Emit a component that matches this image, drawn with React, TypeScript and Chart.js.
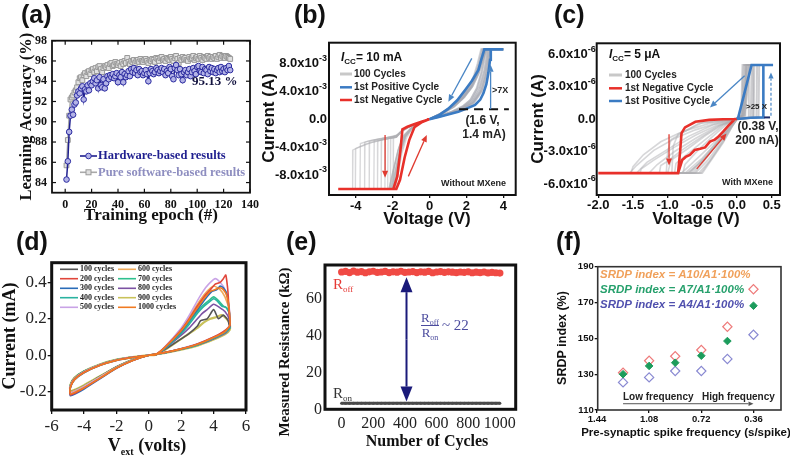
import React, { useEffect, useRef } from "react";
import { Chart, registerables } from "chart.js";

Chart.register(...registerables);

const W = 790;
const H = 459;
const SERIF = '"Liberation Serif", "DejaVu Serif", serif';
const SANS = '"Liberation Sans", Arial, sans-serif';

type Pt = [number, number];
const xy = (a: Pt[]) => a.map(([x, y]) => ({ x, y }));

// ================= (a) learning accuracy =================
const hwAcc = [
  84.3, 86.1, 89.0, 90.6, 91.2, 90.7, 91.7, 91.9, 92.6, 93.0,
  92.8, 93.3, 93.5, 92.2, 93.2, 93.0, 93.6, 93.1, 93.8, 93.6,
  94.0, 94.3, 93.8, 94.1, 93.3, 94.4, 93.6, 93.4, 94.2, 93.3,
  93.8, 94.5, 94.2, 94.6, 94.4, 94.7, 94.3, 94.5, 94.8, 93.9,
  94.6, 94.4, 94.9, 93.9, 94.7, 94.4, 94.6, 95.0, 94.5, 95.2,
  94.9, 95.3, 94.8, 95.1, 94.6, 95.2, 94.9, 95.0, 94.6, 94.8,
  95.1, 94.7, 94.0, 94.8, 95.2, 95.0, 94.7, 94.9, 95.3, 95.1,
  94.8, 95.0, 95.3, 94.9, 95.2, 94.6, 95.0, 94.8, 95.4, 95.2,
  94.5, 94.2, 95.3, 95.6, 95.1, 94.6, 95.2, 94.7, 94.1, 94.9,
  95.1, 94.6, 94.9, 95.2, 94.5, 94.9, 95.3, 95.0, 94.7, 95.4,
  95.5, 95.0, 94.9, 95.4, 94.8, 95.2, 95.1, 94.7, 95.4, 95.0,
  95.3, 94.9, 95.2, 94.8, 95.1, 95.3, 94.9, 95.4, 95.0, 95.2,
  94.9, 95.3, 95.1, 95.5, 95.1,
];
const swAcc = [
  85.7, 88.2, 90.6, 92.2, 92.4, 92.6, 92.9, 93.1, 93.4, 93.9,
  94.3, 94.4, 94.1, 94.6, 94.8, 94.5, 94.9, 95.0, 94.7, 95.1,
  95.2, 94.9, 95.3, 95.0, 95.4, 95.5, 95.2, 94.9, 95.3, 95.5,
  95.4, 95.6, 95.3, 95.7, 95.8, 95.5, 95.6, 95.9, 95.7, 95.6,
  95.8, 95.5, 95.9, 95.7, 96.0, 95.8, 96.3, 95.9, 95.7, 96.0,
  95.9, 96.1, 95.8, 96.0, 96.1, 95.9, 96.2, 96.0, 95.9, 96.1,
  96.2, 96.0, 95.8, 96.1, 96.0, 96.2, 96.1, 95.9, 96.3, 96.2,
  96.0, 96.3, 96.4, 96.1, 96.2, 96.0, 96.3, 96.2, 96.1, 96.4,
  96.2, 96.0, 96.3, 96.5, 96.2, 95.8, 96.3, 96.1, 96.4, 96.2,
  96.3, 96.1, 96.0, 96.4, 96.2, 96.3, 96.5, 96.1, 96.3, 96.4,
  96.2, 96.5, 96.3, 96.1, 96.4, 96.3, 96.2, 96.5, 96.3, 96.4,
  96.2, 96.4, 96.3, 96.5, 96.2, 96.4, 96.6, 96.3, 96.5, 96.4,
  96.3, 96.5, 96.4, 96.3, 96.2,
];

// ================= (b) I-V without MXene (V, mA) =================
const bYTicks = [-8, -4, 0, 4, 8];
const bYTickBase = ["-8.0x10", "-4.0x10", "0.0", "4.0x10", "8.0x10"];
const bYTickExp = ["-3", "-3", "", "-3", "-3"];
const bRed: Pt[] = [[0, 0], [-0.4, -0.35], [-0.8, -0.7], [-1.2, -1.1], [-1.47, -1.45], [-1.58, -4.5], [-1.75, -8.2], [-1.96, -10], [-4.95, -10], [-1.8, -10], [-1.6, -8.7], [-1.35, -5.5], [-1.1, -3.0], [-0.82, -1.16], [-0.4, -0.4], [0, 0]];
const bBlue: Pt[] = [[0, 0], [0.5, 0.3], [1.0, 0.65], [1.56, 1.07], [2.0, 1.5], [2.47, 2.03], [2.75, 2.8], [2.92, 3.7], [3.08, 5.0], [3.19, 6.6], [3.28, 8.5], [3.32, 10], [4.0, 10], [2.97, 10], [2.8, 8.5], [2.65, 7.05], [2.3, 5.5], [1.93, 4.18], [1.5, 2.7], [1.02, 1.5], [0.5, 0.55], [0, 0]];
const bGrayNeg: Pt[][] = [
  [[0, 0], [-0.5, -0.45], [-1, -0.95], [-1.5, -1.7], [-1.8, -2.5], [-2.5, -2.9], [-3.2, -3.4], [-3.8, -4.0], [-4.15, -4.4], [-4.17, -10], [-4.9, -10], [-2.2, -10], [-1.95, -7.0], [-1.7, -4.3], [-1.4, -2.4], [-1.0, -1.3], [-0.5, -0.5], [0, 0]],
  [[0, 0], [-0.5, -0.42], [-1, -0.9], [-1.5, -1.6], [-1.8, -2.6], [-2.6, -3.0], [-3.4, -3.5], [-4.0, -4.2], [-4.02, -10], [-4.9, -10], [-2.15, -10], [-1.9, -6.8], [-1.65, -4.1], [-1.35, -2.3], [-1.0, -1.25], [-0.5, -0.48], [0, 0]],
  [[0, 0], [-0.5, -0.44], [-1, -0.92], [-1.5, -1.65], [-1.8, -2.4], [-2.6, -2.8], [-3.3, -3.1], [-3.75, -3.5], [-3.77, -10], [-4.9, -10], [-2.1, -10], [-1.85, -7.2], [-1.62, -4.5], [-1.38, -2.6], [-1.0, -1.35], [-0.5, -0.5], [0, 0]],
  [[0, 0], [-0.5, -0.43], [-1, -0.93], [-1.5, -1.68], [-1.8, -2.5], [-2.5, -2.7], [-3.1, -3.0], [-3.5, -3.3], [-3.52, -10], [-4.9, -10], [-2.05, -10], [-1.82, -6.9], [-1.6, -4.2], [-1.33, -2.35], [-0.98, -1.28], [-0.5, -0.47], [0, 0]],
  [[0, 0], [-0.5, -0.45], [-1, -0.96], [-1.5, -1.72], [-1.8, -2.6], [-2.5, -2.9], [-3.25, -3.2], [-3.27, -10], [-4.9, -10], [-2.0, -10], [-1.78, -7.0], [-1.57, -4.4], [-1.3, -2.4], [-0.95, -1.25], [-0.5, -0.48], [0, 0]],
  [[0, 0], [-0.5, -0.41], [-1, -0.9], [-1.5, -1.62], [-1.8, -2.4], [-2.4, -2.7], [-3.0, -3.0], [-3.02, -10], [-4.9, -10], [-2.2, -10], [-1.97, -7.3], [-1.72, -4.6], [-1.45, -2.7], [-1.05, -1.4], [-0.5, -0.5], [0, 0]],
  [[0, 0], [-0.5, -0.44], [-1, -0.94], [-1.5, -1.7], [-1.8, -2.5], [-2.3, -2.8], [-2.8, -3.1], [-2.82, -10], [-4.9, -10], [-2.1, -10], [-1.88, -6.6], [-1.66, -4.0], [-1.4, -2.3], [-1.02, -1.3], [-0.5, -0.49], [0, 0]],
  [[0, 0], [-0.5, -0.46], [-1, -0.97], [-1.5, -1.75], [-1.8, -2.6], [-2.6, -2.9], [-2.62, -10], [-4.9, -10], [-2.0, -10], [-1.8, -7.5], [-1.58, -4.8], [-1.32, -2.6], [-0.97, -1.32], [-0.5, -0.5], [0, 0]],
  [[0, 0], [-0.5, -0.43], [-1, -0.92], [-1.5, -1.66], [-1.8, -2.3], [-2.4, -2.7], [-2.42, -10], [-4.9, -10], [-1.95, -10], [-1.76, -7.1], [-1.55, -4.5], [-1.3, -2.5], [-0.95, -1.3], [-0.5, -0.48], [0, 0]],
  [[0, 0], [-0.5, -0.45], [-1, -0.95], [-1.5, -1.7], [-1.8, -2.5], [-2.25, -2.8], [-2.27, -10], [-4.9, -10], [-2.05, -10], [-1.84, -7.4], [-1.6, -4.6], [-1.35, -2.6], [-1.0, -1.33], [-0.5, -0.5], [0, 0]],
  [[0, 0], [-0.5, -0.42], [-1, -0.91], [-1.5, -1.64], [-1.8, -2.4], [-2.1, -2.6], [-2.12, -10], [-4.9, -10], [-1.9, -10], [-1.72, -7.2], [-1.52, -4.6], [-1.28, -2.5], [-0.94, -1.27], [-0.5, -0.47], [0, 0]],
  [[0, 0], [-0.5, -0.44], [-1, -0.94], [-1.5, -1.7], [-1.7, -2.2], [-1.95, -2.5], [-1.97, -10], [-4.9, -10], [-1.85, -10], [-1.68, -7.6], [-1.5, -4.9], [-1.25, -2.7], [-0.92, -1.3], [-0.5, -0.49], [0, 0]],
];
const bGrayPos: Pt[][] = [
  [[0, 0], [0.6, 0.45], [1.2, 0.95], [1.8, 1.6], [2.3, 2.5], [2.7, 4.2], [2.95, 6.5], [3.1, 8.5], [3.15, 10], [4, 10], [2.9, 10], [2.72, 8.0], [2.5, 6.2], [2.15, 4.4], [1.7, 3.0], [1.2, 1.8], [0.6, 0.75], [0, 0]],
  [[0, 0], [0.6, 0.4], [1.2, 0.88], [1.8, 1.45], [2.35, 2.3], [2.8, 4.0], [3.05, 6.3], [3.2, 8.5], [3.25, 10], [4, 10], [3.0, 10], [2.82, 8.3], [2.58, 6.3], [2.25, 4.5], [1.8, 3.0], [1.3, 1.8], [0.6, 0.7], [0, 0]],
  [[0, 0], [0.6, 0.5], [1.2, 1.05], [1.8, 1.8], [2.25, 2.8], [2.6, 4.5], [2.85, 6.8], [3.0, 8.8], [3.05, 10], [4, 10], [2.85, 10], [2.65, 7.8], [2.42, 6.0], [2.05, 4.2], [1.6, 2.8], [1.1, 1.6], [0.6, 0.8], [0, 0]],
  [[0, 0], [0.6, 0.42], [1.2, 0.9], [1.8, 1.5], [2.4, 2.4], [2.85, 4.3], [3.1, 6.8], [3.22, 8.8], [3.28, 10], [4, 10], [3.05, 10], [2.88, 8.4], [2.65, 6.5], [2.3, 4.6], [1.85, 3.1], [1.3, 1.75], [0.6, 0.68], [0, 0]],
  [[0, 0], [0.6, 0.48], [1.2, 1.0], [1.8, 1.7], [2.3, 2.7], [2.7, 4.6], [2.98, 7.0], [3.1, 9.0], [3.12, 10], [4, 10], [2.95, 10], [2.76, 8.1], [2.52, 6.2], [2.18, 4.4], [1.75, 3.0], [1.25, 1.8], [0.6, 0.74], [0, 0]],
  [[0, 0], [0.6, 0.44], [1.2, 0.93], [1.8, 1.55], [2.35, 2.5], [2.75, 4.1], [3.0, 6.2], [3.15, 8.4], [3.2, 10], [4, 10], [3.02, 10], [2.85, 8.5], [2.6, 6.6], [2.28, 4.7], [1.82, 3.1], [1.28, 1.8], [0.6, 0.72], [0, 0]],
  [[0, 0], [0.6, 0.5], [1.2, 1.08], [1.8, 1.85], [2.2, 2.7], [2.55, 4.4], [2.8, 6.6], [2.95, 8.7], [3.0, 10], [4, 10], [2.8, 10], [2.6, 7.9], [2.38, 6.0], [2.0, 4.1], [1.55, 2.7], [1.05, 1.5], [0.6, 0.82], [0, 0]],
  [[0, 0], [0.6, 0.4], [1.2, 0.86], [1.8, 1.42], [2.4, 2.3], [2.9, 4.2], [3.15, 6.6], [3.26, 8.7], [3.3, 10], [4, 10], [3.08, 10], [2.9, 8.6], [2.68, 6.7], [2.35, 4.8], [1.9, 3.2], [1.35, 1.8], [0.6, 0.66], [0, 0]],
];

// ================= (c) I-V with MXene (V, µA) =================
const cYTicks = [-6, -3, 0, 3, 6];
const cYTickBase = ["-6.0x10", "-3.0x10", "0.0", "3.0x10", "6.0x10"];
const cYTickExp = ["-6", "-6", "", "-6", "-6"];
const cRed: Pt[] = [[0, 0], [-0.2, -0.02], [-0.4, -0.08], [-0.6, -0.25], [-0.75, -0.77], [-0.8, -1.3], [-0.82, -3.0], [-0.85, -5], [-2.0, -5], [-0.85, -5], [-0.79, -3.79], [-0.74, -3.5], [-0.68, -3.32], [-0.61, -2.86], [-0.53, -2.75], [-0.46, -2.62], [-0.39, -2.09], [-0.32, -1.9], [-0.27, -1.63], [-0.2, -1.17], [-0.13, -0.65], [-0.03, 0], [0, 0]];
const cBlue: Pt[] = [[0, 0], [0.2, 0.12], [0.38, 0.15], [0.38, 5], [0.52, 5], [0.21, 5], [0.02, 0.2], [0, 0]];
const cGrayNeg: Pt[][] = [
  [[0, 0], [-0.3, -0.4], [-0.6, -1.0], [-0.9, -1.8], [-1.2, -2.9], [-1.45, -4.3], [-1.55, -5], [-0.75, -5], [-0.5, -3.6], [-0.3, -2.2], [-0.12, -0.9], [0, 0]],
  [[0, 0], [-0.3, -0.6], [-0.6, -1.5], [-0.9, -2.6], [-1.2, -3.8], [-1.38, -4.6], [-1.4, -5], [-0.7, -5], [-0.48, -3.7], [-0.28, -2.2], [-0.1, -0.8], [0, 0]],
  [[0, 0], [-0.3, -0.7], [-0.6, -1.8], [-0.9, -3.0], [-1.15, -4.2], [-1.27, -5], [-0.65, -5], [-0.45, -3.6], [-0.26, -2.1], [-0.1, -0.8], [0, 0]],
  [[0, 0], [-0.25, -0.6], [-0.5, -1.6], [-0.8, -2.9], [-1.0, -3.9], [-1.1, -4.3], [-1.12, -5], [-0.6, -5], [-0.42, -3.8], [-0.25, -2.3], [-0.09, -0.8], [0, 0]],
  [[0, 0], [-0.2, -0.5], [-0.45, -1.5], [-0.7, -2.7], [-0.95, -3.8], [-1.0, -5], [-0.55, -5], [-0.4, -3.9], [-0.22, -2.2], [-0.08, -0.7], [0, 0]],
  [[0, 0], [-0.2, -0.6], [-0.4, -1.6], [-0.65, -2.9], [-0.88, -4.1], [-0.9, -5], [-0.52, -5], [-0.38, -3.8], [-0.2, -2.1], [-0.07, -0.7], [0, 0]],
  [[0, 0], [-0.15, -0.5], [-0.35, -1.6], [-0.55, -2.8], [-0.75, -4.2], [-0.78, -5], [-0.5, -5], [-0.36, -3.7], [-0.2, -2.2], [-0.07, -0.7], [0, 0]],
  [[0, 0], [-0.4, -0.4], [-0.8, -1.2], [-1.1, -2.1], [-1.35, -3.3], [-1.5, -4.4], [-1.53, -5], [-0.8, -5], [-0.55, -3.5], [-0.32, -2.1], [-0.13, -0.9], [0, 0]],
  [[0, 0], [-0.5, -0.35], [-0.85, -1.4], [-0.92, -2.5], [-0.94, -5], [-0.62, -5], [-0.44, -3.6], [-0.26, -2.0], [-0.1, -0.75], [0, 0]],
  [[0, 0], [-0.55, -0.4], [-0.95, -1.9], [-1.0, -3.0], [-1.02, -5], [-0.68, -5], [-0.47, -3.5], [-0.28, -2.0], [-0.1, -0.7], [0, 0]],
  [[0, 0], [-0.35, -0.55], [-0.7, -1.6], [-1.0, -2.8], [-1.3, -4.0], [-1.45, -5], [-0.72, -5], [-0.5, -3.9], [-0.3, -2.4], [-0.11, -0.9], [0, 0]],
];
const cGrayPos: Pt[][] = [
  [[0, 0], [0.12, 0.15], [0.13, 5], [0.22, 5], [0.08, 5], [0.06, 0.3], [0, 0]],
  [[0, 0], [0.16, 0.15], [0.17, 5], [0.25, 5], [0.1, 5], [0.07, 0.4], [0, 0]],
  [[0, 0], [0.2, 0.15], [0.21, 5], [0.28, 5], [0.12, 5], [0.08, 0.3], [0, 0]],
  [[0, 0], [0.24, 0.15], [0.25, 5], [0.31, 5], [0.15, 5], [0.09, 0.4], [0, 0]],
  [[0, 0], [0.28, 0.15], [0.29, 5], [0.33, 5], [0.17, 5], [0.1, 0.3], [0, 0]],
  [[0, 0], [0.31, 0.15], [0.32, 5], [0.36, 5], [0.19, 5], [0.11, 0.35], [0, 0]],
  [[0, 0], [0.22, 0.15], [0.23, 5], [0.3, 5], [0.14, 5], [0.08, 0.35], [0, 0]],
];

// ================= (d) I-V loops over cycling (V, mA) =================
const dNames = ["100 cycles", "200 cycles", "300 cycles", "400 cycles", "500 cycles", "600 cycles", "700 cycles", "800 cycles", "900 cycles", "1000 cycles"];
const dColors = ["#555555", "#e0453a", "#2a6cb8", "#2ab3a0", "#c9a3e6", "#efaa5a", "#2fc08e", "#7c52a3", "#c9c25a", "#f07a22"];
const loop100: Pt[] = [[0, 0], [-1, -0.01], [-2, -0.025], [-3, -0.05], [-4, -0.088], [-4.6, -0.125], [-4.85, -0.165], [-4.85, -0.2], [-4.5, -0.19], [-4, -0.168], [-3, -0.115], [-2, -0.063], [-1, -0.024], [0, 0], [1, 0.014], [2, 0.034], [3, 0.058], [4, 0.092], [4.6, 0.12], [4.95, 0.15], [4.9, 0.19], [4.6, 0.22], [4.3, 0.2], [4.0, 0.25], [3.6, 0.2], [3.2, 0.19], [3.0, 0.16], [2.5, 0.12], [2, 0.09], [1, 0.032], [0.4, 0.002], [0, 0]];
const loop200: Pt[] = [[0, 0], [-1, -0.011], [-2, -0.027], [-3, -0.053], [-4, -0.093], [-4.6, -0.132], [-4.85, -0.175], [-4.85, -0.218], [-4.5, -0.205], [-4, -0.18], [-3, -0.125], [-2, -0.07], [-1, -0.028], [0, 0], [1, 0.016], [2, 0.036], [3, 0.062], [4, 0.1], [4.6, 0.13], [5, 0.16], [4.95, 0.24], [4.9, 0.33], [4.85, 0.38], [4.75, 0.44], [4.6, 0.42], [4.4, 0.4], [4.1, 0.39], [3.8, 0.36], [3.4, 0.32], [3, 0.27], [2.5, 0.2], [2, 0.14], [1, 0.045], [0.4, 0.003], [0, 0]];
const loop300: Pt[] = [[0, 0], [-1, -0.012], [-2, -0.028], [-3, -0.055], [-4, -0.096], [-4.6, -0.136], [-4.85, -0.18], [-4.85, -0.222], [-4.5, -0.21], [-4, -0.185], [-3, -0.128], [-2, -0.072], [-1, -0.029], [0, 0], [1, 0.015], [2, 0.035], [3, 0.06], [4, 0.097], [4.7, 0.13], [5, 0.16], [4.95, 0.25], [4.85, 0.33], [4.6, 0.37], [4.4, 0.38], [4.2, 0.36], [3.9, 0.35], [3.5, 0.31], [3, 0.25], [2.5, 0.19], [2, 0.13], [1, 0.042], [0.4, 0.002], [0, 0]];
const loop400: Pt[] = [[0, 0], [-1, -0.01], [-2, -0.025], [-3, -0.05], [-4, -0.089], [-4.6, -0.127], [-4.85, -0.168], [-4.85, -0.2], [-4.5, -0.19], [-4, -0.17], [-3, -0.118], [-2, -0.067], [-1, -0.026], [0, 0], [1, 0.014], [2, 0.033], [3, 0.057], [4, 0.093], [4.7, 0.125], [5, 0.15], [5, 0.22], [4.8, 0.26], [4.5, 0.27], [4.2, 0.3], [4.0, 0.31], [3.7, 0.29], [3.3, 0.26], [3, 0.23], [2.5, 0.17], [2, 0.12], [1, 0.038], [0.4, 0.002], [0, 0]];
const loop500: Pt[] = [[0, 0], [-1, -0.011], [-2, -0.026], [-3, -0.052], [-4, -0.091], [-4.6, -0.13], [-4.85, -0.17], [-4.85, -0.205], [-4.5, -0.195], [-4, -0.172], [-3, -0.12], [-2, -0.068], [-1, -0.027], [0, 0], [1, 0.016], [2, 0.037], [3, 0.063], [4, 0.1], [4.7, 0.135], [5, 0.17], [4.95, 0.27], [4.7, 0.36], [4.4, 0.4], [4.1, 0.42], [3.8, 0.4], [3.5, 0.37], [3.2, 0.33], [3, 0.3], [2.5, 0.22], [2, 0.15], [1, 0.048], [0.4, 0.003], [0, 0]];
const loop600: Pt[] = [[0, 0], [-1, -0.01], [-2, -0.025], [-3, -0.051], [-4, -0.09], [-4.6, -0.128], [-4.85, -0.168], [-4.85, -0.2], [-4.5, -0.19], [-4, -0.168], [-3, -0.117], [-2, -0.066], [-1, -0.026], [0, 0], [1, 0.015], [2, 0.035], [3, 0.06], [4, 0.098], [4.7, 0.13], [5, 0.165], [4.95, 0.25], [4.7, 0.32], [4.4, 0.36], [4.0, 0.38], [3.7, 0.36], [3.4, 0.33], [3, 0.28], [2.5, 0.21], [2, 0.145], [1, 0.045], [0.4, 0.002], [0, 0]];
const loop700: Pt[] = [[0, 0], [-1, -0.01], [-2, -0.025], [-3, -0.05], [-4, -0.088], [-4.6, -0.126], [-4.85, -0.166], [-4.85, -0.198], [-4.5, -0.19], [-4, -0.168], [-3, -0.117], [-2, -0.066], [-1, -0.026], [0, 0], [1, 0.014], [2, 0.034], [3, 0.058], [4, 0.095], [4.7, 0.128], [5, 0.16], [5, 0.23], [4.8, 0.26], [4.6, 0.27], [4.3, 0.3], [4.0, 0.32], [3.7, 0.3], [3.3, 0.27], [3, 0.24], [2.5, 0.18], [2, 0.125], [1, 0.04], [0.4, 0.002], [0, 0]];
const loop800: Pt[] = [[0, 0], [-1, -0.011], [-2, -0.027], [-3, -0.053], [-4, -0.094], [-4.6, -0.134], [-4.85, -0.176], [-4.85, -0.21], [-4.5, -0.2], [-4, -0.176], [-3, -0.122], [-2, -0.069], [-1, -0.027], [0, 0], [1, 0.014], [2, 0.033], [3, 0.056], [4, 0.09], [4.7, 0.12], [5, 0.15], [4.95, 0.2], [4.7, 0.24], [4.4, 0.26], [4.0, 0.28], [3.6, 0.25], [3.3, 0.23], [3, 0.2], [2.5, 0.15], [2, 0.11], [1, 0.036], [0.4, 0.002], [0, 0]];
const loop900: Pt[] = [[0, 0], [-1, -0.01], [-2, -0.024], [-3, -0.049], [-4, -0.087], [-4.6, -0.124], [-4.85, -0.163], [-4.85, -0.195], [-4.5, -0.186], [-4, -0.164], [-3, -0.114], [-2, -0.065], [-1, -0.025], [0, 0], [1, 0.013], [2, 0.031], [3, 0.053], [4, 0.086], [4.7, 0.115], [5, 0.14], [5, 0.17], [4.8, 0.2], [4.5, 0.22], [4.2, 0.21], [3.8, 0.2], [3.4, 0.18], [3, 0.15], [2.5, 0.12], [2, 0.09], [1, 0.03], [0.4, 0.002], [0, 0]];
const loop1000: Pt[] = [[0, 0], [-1, -0.012], [-2, -0.028], [-3, -0.055], [-4, -0.095], [-4.6, -0.135], [-4.85, -0.178], [-4.85, -0.212], [-4.5, -0.2], [-4, -0.178], [-3, -0.124], [-2, -0.07], [-1, -0.028], [0, 0], [1, 0.015], [2, 0.035], [3, 0.06], [4, 0.097], [4.7, 0.13], [5, 0.165], [4.95, 0.26], [4.8, 0.33], [4.6, 0.36], [4.4, 0.37], [4.1, 0.36], [3.8, 0.35], [3.4, 0.31], [3, 0.26], [2.5, 0.195], [2, 0.135], [1, 0.043], [0.4, 0.002], [0, 0]];
const dLoops = [loop100, loop200, loop300, loop400, loop500, loop600, loop700, loop800, loop900, loop1000];
const dDrawOrder = [9, 1, 2, 4, 5, 3, 6, 7, 0, 8]; // top-most first

// ================= (e) endurance =================
const eCycles = [0, 25, 50, 75, 100, 125, 150, 175, 200, 225, 250, 275, 300, 325, 350, 375, 400, 425, 450, 475, 500, 525, 550, 575, 600, 625, 650, 675, 700, 725, 750, 775, 800, 825, 850, 875, 900, 925, 950, 975, 1000];
const eRoff = [74.6, 74.9, 74.3, 75.1, 74.5, 74.8, 74.2, 74.7, 75.0, 74.4, 74.6, 74.9, 74.3, 74.7, 74.5, 75.0, 74.4, 74.6, 74.8, 74.3, 74.7, 74.5, 74.9, 74.2, 74.6, 74.8, 74.4, 74.7, 74.5, 74.3, 74.6, 74.4, 74.7, 74.2, 74.5, 74.3, 74.6, 74.1, 74.4, 74.2, 74.0];
const eRon = [3.3, 3.35, 3.3, 3.25, 3.3, 3.35, 3.3, 3.3, 3.25, 3.3, 3.35, 3.3, 3.3, 3.25, 3.3, 3.3, 3.35, 3.3, 3.3, 3.25, 3.3, 3.3, 3.35, 3.3, 3.3, 3.25, 3.3, 3.3, 3.35, 3.3, 3.3, 3.25, 3.3, 3.3, 3.35, 3.3, 3.3, 3.25, 3.3, 3.3, 3.3];
const eXTicks = [0, 200, 400, 600, 800, 1000];
const eYTicks = [0, 20, 40, 60];

// ================= (f) SRDP =================
const fX = [1.26, 1.08, 0.9, 0.72, 0.54, 0.36];
const fA10 = [130.8, 137.5, 140.0, 143.5, 156.5, 177.4];
const fA7 = [130.0, 134.6, 136.4, 140.3, 148.5, 168.2];
const fA4 = [125.4, 128.2, 131.8, 131.8, 138.5, 152.0];
const fXTicks = [1.44, 1.08, 0.72, 0.36];
const fXTickText = ["1.44", "1.08", "0.72", "0.36"];
const fYTicks = [110, 130, 150, 170, 190];

// ================= helpers =================
function txt(ctx: any, s: string, x: number, y: number, font: string, color: string, align: any = "left", base: any = "middle") {
  ctx.save();
  ctx.font = font;
  ctx.fillStyle = color;
  ctx.textAlign = align;
  ctx.textBaseline = base;
  ctx.fillText(s, x, y);
  ctx.restore();
}
function vtxt(ctx: any, s: string, x: number, y: number, font: string, color: string) {
  ctx.save();
  ctx.translate(x, y);
  ctx.rotate(-Math.PI / 2);
  txt(ctx, s, 0, 0, font, color, "center", "middle");
  ctx.restore();
}
function runs(ctx: any, parts: [string, string, number][], x: number, y: number, color: string, align = "left") {
  ctx.save();
  ctx.fillStyle = color;
  ctx.textBaseline = "alphabetic";
  ctx.textAlign = "left";
  let total = 0;
  for (const [t, f] of parts) {
    ctx.font = f;
    total += ctx.measureText(t).width;
  }
  let cx = align === "center" ? x - total / 2 : align === "right" ? x - total : x;
  for (const [t, f, dy] of parts) {
    ctx.font = f;
    ctx.fillText(t, cx, y + dy);
    cx += ctx.measureText(t).width;
  }
  ctx.restore();
}
function supLabel(ctx: any, base: string, exp: string, xr: number, y: number, f1: string, f2: string, color: string) {
  ctx.save();
  ctx.fillStyle = color;
  ctx.textBaseline = "middle";
  ctx.font = f2;
  const ew = exp ? ctx.measureText(exp).width : 0;
  ctx.font = f1;
  ctx.textAlign = "right";
  ctx.fillText(base, xr - ew, y);
  if (exp) {
    ctx.font = f2;
    ctx.textAlign = "left";
    ctx.fillText(exp, xr - ew, y - 5);
  }
  ctx.restore();
}
function arrow(ctx: any, x1: number, y1: number, x2: number, y2: number, color: string, lw: number, head: number, hw: number, dash?: number[]) {
  ctx.save();
  ctx.strokeStyle = color;
  ctx.fillStyle = color;
  ctx.lineWidth = lw;
  const a = Math.atan2(y2 - y1, x2 - x1);
  const bx = x2 - head * Math.cos(a);
  const by = y2 - head * Math.sin(a);
  if (dash) ctx.setLineDash(dash);
  ctx.beginPath();
  ctx.moveTo(x1, y1);
  ctx.lineTo(bx, by);
  ctx.stroke();
  ctx.setLineDash([]);
  ctx.beginPath();
  ctx.moveTo(x2, y2);
  ctx.lineTo(bx + hw * Math.sin(a), by - hw * Math.cos(a));
  ctx.lineTo(bx - hw * Math.sin(a), by + hw * Math.cos(a));
  ctx.closePath();
  ctx.fill();
  ctx.restore();
}
function seg(ctx: any, x1: number, y1: number, x2: number, y2: number, color: string, lw: number, dash?: number[]) {
  ctx.save();
  ctx.strokeStyle = color;
  ctx.lineWidth = lw;
  if (dash) ctx.setLineDash(dash);
  ctx.beginPath();
  ctx.moveTo(x1, y1);
  ctx.lineTo(x2, y2);
  ctx.stroke();
  ctx.restore();
}
function frame(chart: any, lw: number, color: string) {
  const { left, top, right, bottom } = chart.chartArea;
  const ctx = chart.ctx;
  ctx.save();
  ctx.lineWidth = lw;
  ctx.strokeStyle = color;
  ctx.strokeRect(left, top, right - left, bottom - top);
  ctx.restore();
}
function scale(axis: "x" | "y", o: any): any {
  const s: any = {
    type: "linear",
    min: o.min,
    max: o.max,
    reverse: !!o.reverse,
    grid: { display: !!o.tick, drawOnChartArea: false, drawTicks: !!o.tick, tickLength: o.tick || 0, color: "#111", lineWidth: 1.3 },
    border: { display: false },
    ticks: {
      display: o.show !== false,
      autoSkip: false,
      maxRotation: 0,
      minRotation: 0,
      includeBounds: false,
      padding: o.pad ?? 3,
      color: o.color || "#111",
      font: o.font,
    },
    afterFit: (sc: any) => {
      if (axis === "x") sc.height = o.fit;
      else sc.width = o.fit;
    },
  };
  if (o.step) s.ticks.stepSize = o.step;
  if (o.cb) s.ticks.callback = o.cb;
  if (o.vals) s.afterBuildTicks = (sc: any) => { sc.ticks = o.vals.map((v: number) => ({ value: v })); };
  return s;
}
function baseOpts(pad: any, x: any, y: any): any {
  return {
    responsive: false,
    animation: false,
    events: [],
    layout: { padding: pad },
    plugins: { legend: { display: false }, tooltip: { enabled: false } },
    scales: { x, y },
  };
}
function lineDs(a: Pt[], color: string, w: number, extra: any = {}) {
  return { data: xy(a), showLine: true, borderColor: color, backgroundColor: color, borderWidth: w, pointRadius: 0, tension: 0, fill: false, ...extra };
}
const label = (ctx: any, s: string, x: number, y: number) => txt(ctx, s, x, y, `bold 25px ${SANS}`, "#111", "left", "middle");

// ================= chart builders =================
function makeA(): any {
  return {
    type: "scatter",
    data: {
      datasets: [
        { data: hwAcc.map((y, i) => ({ x: i + 1, y })), showLine: true, borderColor: "#1f1f8f", borderWidth: 1.5, pointStyle: "circle", pointRadius: 2.8, pointBorderWidth: 1, pointBorderColor: "#2b2ba0", pointBackgroundColor: "#b3b3e6" },
        { data: swAcc.map((y, i) => ({ x: i + 1, y })), showLine: true, borderColor: "#a9a9a9", borderWidth: 1.5, pointStyle: "rect", pointRadius: 3.4, pointBorderWidth: 1, pointBorderColor: "#999999", pointBackgroundColor: "#e0e0e0" },
      ],
    },
    options: baseOpts(
      { left: 7, top: 40.7, right: 540, bottom: 241.3 },
      scale("x", { min: -10, max: 140, step: 20, pad: 5, fit: 25, font: { family: SERIF, size: 12, weight: "bold" } }),
      scale("y", { min: 83, max: 98, step: 2, pad: 5, fit: 45, font: { family: SERIF, size: 12, weight: "bold" } })
    ),
    plugins: [{
      id: "decoA",
      afterDraw(chart: any) {
        const ctx = chart.ctx;
        const ca = chart.chartArea;
        frame(chart, 1.8, "#111");
        for (const t of chart.scales.x.ticks) {
          const p = chart.scales.x.getPixelForValue(t.value);
          seg(ctx, p, ca.bottom, p, ca.bottom - 4, "#111", 1.2);
          seg(ctx, p, ca.top, p, ca.top + 4, "#111", 1.2);
        }
        for (const t of chart.scales.y.ticks) {
          const p = chart.scales.y.getPixelForValue(t.value);
          seg(ctx, ca.left, p, ca.left + 4, p, "#111", 1.2);
          seg(ctx, ca.right, p, ca.right - 4, p, "#111", 1.2);
        }
        label(ctx, "(a)", 21, 16);
        vtxt(ctx, "Learning Accuracy (%)", 27, 116.7, `bold 16.5px ${SERIF}`, "#111");
        txt(ctx, "Training epoch (#)", 151, 216, `bold 17px ${SERIF}`, "#111", "center");
        seg(ctx, 80, 156, 97, 156, "#1f1f8f", 1.6);
        ctx.save(); ctx.beginPath(); ctx.arc(88.5, 156, 2.8, 0, Math.PI * 2); ctx.fillStyle = "#b3b3e6"; ctx.fill(); ctx.strokeStyle = "#2b2ba0"; ctx.lineWidth = 1; ctx.stroke(); ctx.restore();
        txt(ctx, "Hardware-based results", 98, 156, `bold 12.5px ${SERIF}`, "#1f1f8f");
        seg(ctx, 80, 172.3, 97, 172.3, "#a9a9a9", 1.6);
        ctx.save(); ctx.fillStyle = "#e0e0e0"; ctx.strokeStyle = "#999"; ctx.lineWidth = 1; ctx.fillRect(86, 169.8, 5, 5); ctx.strokeRect(86, 169.8, 5, 5); ctx.restore();
        txt(ctx, "Pure software-based results", 98, 172.3, `bold 12.5px ${SERIF}`, "#8e8ec0");
        txt(ctx, "95.13 %", 192, 82, `bold 13px ${SERIF}`, "#141440");
      },
    }],
  };
}

function makeB(): any {
  const ds: any[] = [lineDs(bBlue, "#3b7bc3", 2.6), lineDs(bRed, "#e8302a", 2.6)];
  bGrayPos.forEach((c) => ds.push(lineDs(c, "rgba(165,168,178,0.5)", 2)));
  bGrayNeg.forEach((c) => ds.push(lineDs(c, "rgba(175,175,180,0.5)", 1.3)));
  return {
    type: "scatter",
    data: { datasets: ds },
    options: baseOpts(
      { left: 289, top: 42.7, right: 274.3, bottom: 239 },
      scale("x", { min: -5.45, max: 4.67, step: 2, tick: 3, pad: 1, fit: 25, font: { family: SANS, size: 13, weight: "bold" } }),
      scale("y", { min: -10.87, max: 10.95, vals: bYTicks, show: false, fit: 40 })
    ),
    plugins: [{
      id: "decoB",
      afterDraw(chart: any) {
        const ctx = chart.ctx;
        const ca = chart.chartArea;
        const sx = chart.scales.x, sy = chart.scales.y;
        const P = (x: number, y: number) => [sx.getPixelForValue(x), sy.getPixelForValue(y)];
        frame(chart, 2, "#111");
        bYTicks.forEach((v, i) => supLabel(ctx, bYTickBase[i], bYTickExp[i], ca.left - 2, sy.getPixelForValue(v), `bold 13px ${SANS}`, `bold 9px ${SANS}`, "#111"));
        label(ctx, "(b)", 294, 16);
        vtxt(ctx, "Current (A)", 269, 118, `bold 17px ${SANS}`, "#111");
        txt(ctx, "Voltage (V)", 427, 219, `bold 17px ${SANS}`, "#111", "center");
        runs(ctx, [["I", `italic bold 12px ${SANS}`, 0], ["CC", `bold 8px ${SANS}`, 3], ["= 10 mA", `bold 12px ${SANS}`, 0]], 341, 60.5, "#111");
        seg(ctx, 340, 74, 352, 74, "#c8c8c8", 3);
        txt(ctx, "100 Cycles", 354, 74, `bold 10px ${SANS}`, "#222");
        seg(ctx, 340, 87.3, 352, 87.3, "#3b7bc3", 2.5);
        txt(ctx, "1st Positive Cycle", 354, 87.3, `bold 10px ${SANS}`, "#222");
        seg(ctx, 340, 100, 352, 100, "#e8302a", 2.5);
        txt(ctx, "1st Negative Cycle", 354, 100, `bold 10px ${SANS}`, "#222");
        txt(ctx, "Without MXene", 506, 183.5, `bold 9px ${SANS}`, "#222", "right");
        const [d1x, dy] = P(1.6, 1.4);
        const [d2x] = P(4.3, 1.4);
        seg(ctx, d1x, dy, d2x, dy, "#111", 2, [9, 6]);
        txt(ctx, ">7X", 492, 90.7, `bold 9px ${SANS}`, "#222");
        txt(ctx, "(1.6 V,", 482.5, 121, `bold 12px ${SANS}`, "#222", "center");
        txt(ctx, "1.4 mA)", 484, 135, `bold 12px ${SANS}`, "#222", "center");
        let a = P(2.29, 8.7), b = P(1.02, 2.5);
        arrow(ctx, a[0], a[1], b[0], b[1], "#4a86c5", 1.3, 7, 3);
        a = P(3.31, 1.43); b = P(3.31, 7.8);
        arrow(ctx, a[0], a[1], b[0], b[1], "#4a86c5", 1.3, 7, 3);
        a = P(-2.41, -2.26); b = P(-2.41, -8.4);
        arrow(ctx, a[0], a[1], b[0], b[1], "#e03a30", 1.3, 7, 3);
        a = P(-1.15, -8.2); b = P(-0.15, -2.26);
        arrow(ctx, a[0], a[1], b[0], b[1], "#e03a30", 1.3, 7, 3);
      },
    }],
  };
}

function makeC(): any {
  const ds: any[] = [lineDs(cBlue, "#3b7bc3", 2.6), lineDs(cRed, "#e8302a", 2.6)];
  cGrayPos.forEach((c) => ds.push(lineDs(c, "rgba(165,165,172,0.55)", 2)));
  cGrayNeg.forEach((c) => ds.push(lineDs(c, "rgba(175,175,180,0.5)", 1.6)));
  return {
    type: "scatter",
    data: { datasets: ds },
    options: baseOpts(
      { left: 556.7, top: 43.3, right: 10, bottom: 239 },
      scale("x", { min: -2.023, max: 0.62, step: 0.5, tick: 3, pad: 0, fit: 25, font: { family: SANS, size: 13, weight: "bold" }, cb: (v: number) => v.toFixed(1) }),
      scale("y", { min: -7.02, max: 7.0, vals: cYTicks, show: false, fit: 40 })
    ),
    plugins: [{
      id: "decoC",
      afterDraw(chart: any) {
        const ctx = chart.ctx;
        const ca = chart.chartArea;
        const sx = chart.scales.x, sy = chart.scales.y;
        const P = (x: number, y: number) => [sx.getPixelForValue(x), sy.getPixelForValue(y)];
        frame(chart, 2, "#111");
        cYTicks.forEach((v, i) => supLabel(ctx, cYTickBase[i], cYTickExp[i], ca.left - 1, sy.getPixelForValue(v), `bold 13px ${SANS}`, `bold 9px ${SANS}`, "#111"));
        label(ctx, "(c)", 554, 16);
        vtxt(ctx, "Current (A)", 538, 119, `bold 17px ${SANS}`, "#111");
        txt(ctx, "Voltage (V)", 696, 219, `bold 17px ${SANS}`, "#111", "center");
        runs(ctx, [["I", `italic bold 12px ${SANS}`, 0], ["CC", `bold 8px ${SANS}`, 3], ["= 5 μA", `bold 12px ${SANS}`, 0]], 609, 58, "#111");
        seg(ctx, 609, 75, 622, 75, "#c8c8c8", 3);
        txt(ctx, "100 Cycles", 625, 75, `bold 10px ${SANS}`, "#222");
        seg(ctx, 609, 88.3, 622, 88.3, "#e8302a", 2.5);
        txt(ctx, "1st Negative Cycle", 625, 88.3, `bold 10px ${SANS}`, "#222");
        seg(ctx, 609, 101, 622, 101, "#3b7bc3", 2.5);
        txt(ctx, "1st Positive Cycle", 625, 101, `bold 10px ${SANS}`, "#222");
        txt(ctx, "With MXene", 773, 182.7, `bold 9px ${SANS}`, "#222", "right");
        txt(ctx, ">25 X", 746, 106.7, `bold 8px ${SANS}`, "#222");
        txt(ctx, "(0.38 V,", 758, 126.7, `bold 12px ${SANS}`, "#222", "center");
        txt(ctx, "200 nA)", 757, 140.5, `bold 12px ${SANS}`, "#222", "center");
        let a = P(0.39, 0.15), b = P(0.5, 0.15);
        seg(ctx, a[0], a[1], b[0], b[1], "#1a2a6a", 2, [6, 3]);
        a = P(0.49, 0.3); b = P(0.49, 4.3);
        arrow(ctx, a[0], a[1], b[0], b[1], "#4a86c5", 1.2, 6, 2.6, [3, 2]);
        a = P(0.11, 4.0); b = P(-0.39, 1.07);
        arrow(ctx, a[0], a[1], b[0], b[1], "#4a86c5", 1.3, 7, 3);
        a = P(-0.98, -1.4); b = P(-0.98, -4.3);
        arrow(ctx, a[0], a[1], b[0], b[1], "#e03a30", 1.3, 7, 3);
        a = P(-0.58, -4.6); b = P(-0.15, -1.33);
        arrow(ctx, a[0], a[1], b[0], b[1], "#e03a30", 1.3, 7, 3);
      },
    }],
  };
}

function makeD(): any {
  const ds = dDrawOrder.map((i) => lineDs(dLoops[i], dColors[i], i === 8 ? 2.2 : 1.6, { tension: 0.2 }));
  return {
    type: "scatter",
    data: { datasets: ds },
    options: baseOpts(
      { left: 11.7, top: 262.7, right: 544, bottom: 24 },
      scale("x", { min: -6, max: 6, step: 2, tick: 4, pad: 2, fit: 25, font: { family: SERIF, size: 17 }, color: "#222" }),
      scale("y", { min: -0.3, max: 0.5075, step: 0.2, tick: 4, pad: 1, fit: 40, font: { family: SERIF, size: 17 }, color: "#222", cb: (v: number) => v.toFixed(1) })
    ),
    plugins: [{
      id: "decoD",
      afterDraw(chart: any) {
        const ctx = chart.ctx;
        frame(chart, 3, "#111");
        label(ctx, "(d)", 16, 243);
        vtxt(ctx, "Current (mA)", 10, 336, `bold 18px ${SERIF}`, "#111");
        runs(ctx, [["V", `bold 18px ${SERIF}`, 0], ["ext", `bold 10px ${SERIF}`, 4], [" (volts)", `bold 18px ${SERIF}`, 0]], 147, 451, "#111", "center");
        const rows = [269.3, 278.7, 288.3, 297.7, 307.3];
        for (let i = 0; i < 10; i++) {
          const col = i < 5 ? 0 : 1;
          const y = rows[i % 5];
          const lx = col === 0 ? 60 : 118;
          seg(ctx, lx, y, lx + 18, y, dColors[i], 1.6);
          txt(ctx, dNames[i], lx + 20, y, `bold 8px ${SERIF}`, "#222");
        }
      },
    }],
  };
}

function makeE(): any {
  return {
    type: "scatter",
    data: {
      datasets: [
        { data: eCycles.map((x, i) => ({ x, y: eRon[i] })), showLine: true, borderColor: "#4a4a4a", borderWidth: 3, pointRadius: 1.5, pointBackgroundColor: "#4a4a4a", pointBorderWidth: 0 },
        { data: eCycles.map((x, i) => ({ x, y: eRoff[i] })), showLine: true, borderColor: "#f04a44", borderWidth: 5, pointRadius: 3.6, pointBackgroundColor: "#f04a44", pointBorderColor: "#ee4040", pointBorderWidth: 0 },
      ],
    },
    options: baseOpts(
      { left: 290, top: 265, right: 274.3, bottom: 24.7 },
      scale("x", { min: -105, max: 1100, vals: eXTicks, pad: 5, fit: 25, font: { family: SERIF, size: 16 }, color: "#222", cb: (v: number) => String(v) }),
      scale("y", { min: 0, max: 78.4, vals: eYTicks, pad: 3, fit: 35, font: { family: SERIF, size: 16 }, color: "#222", cb: (v: number) => String(v) })
    ),
    plugins: [{
      id: "decoE",
      afterDraw(chart: any) {
        const ctx = chart.ctx;
        const sx = chart.scales.x, sy = chart.scales.y;
        frame(chart, 3, "#111");
        label(ctx, "(e)", 286, 243);
        vtxt(ctx, "Measured Resistance (kΩ)", 285, 352, `bold 15px ${SERIF}`, "#111");
        txt(ctx, "Number of Cycles", 427, 442, `bold 16px ${SERIF}`, "#111", "center");
        runs(ctx, [["R", `15px ${SERIF}`, 0], ["off", `9px ${SERIF}`, 3]], 333, 289, "#e53935");
        runs(ctx, [["R", `15px ${SERIF}`, 0], ["on", `9px ${SERIF}`, 3]], 333, 398, "#333333");
        const ax = sx.getPixelForValue(410);
        const yTop = sy.getPixelForValue(71.8);
        const yBot = sy.getPixelForValue(4.2);
        const mid = (yTop + yBot) / 2;
        arrow(ctx, ax, mid, ax, yTop, "#1a1a7a", 2, 15, 6);
        arrow(ctx, ax, mid, ax, yBot, "#1a1a7a", 2, 15, 6);
        const nv = "#4b4b9e";
        runs(ctx, [["R", `13px ${SERIF}`, 0], ["off", `8px ${SERIF}`, 3]], 430, 322, nv, "center");
        seg(ctx, 421, 325.5, 439, 325.5, nv, 1);
        runs(ctx, [["R", `13px ${SERIF}`, 0], ["on", `8px ${SERIF}`, 3]], 430, 337, nv, "center");
        txt(ctx, "~ 22", 442, 326, `15px ${SERIF}`, nv);
      },
    }],
  };
}

function makeF(): any {
  return {
    type: "scatter",
    data: {
      datasets: [
        { data: fX.map((x, i) => ({ x, y: fA7[i] })), pointStyle: "rectRot", pointRadius: 3.8, pointBackgroundColor: "#1c9c5c", pointBorderColor: "#1c9c5c", pointBorderWidth: 1 },
        { data: fX.map((x, i) => ({ x, y: fA10[i] })), pointStyle: "rectRot", pointRadius: 4.6, pointBackgroundColor: "#ffffff", pointBorderColor: "#ee7b7b", pointBorderWidth: 1.2 },
        { data: fX.map((x, i) => ({ x, y: fA4[i] })), pointStyle: "rectRot", pointRadius: 4.6, pointBackgroundColor: "#ffffff", pointBorderColor: "#8a8ad2", pointBorderWidth: 1.2 },
      ],
    },
    options: baseOpts(
      { left: 562.7, top: 266.7, right: 9, bottom: 29 },
      scale("x", { min: 0.17, max: 1.435, reverse: true, vals: fXTicks, tick: 3, pad: 1, fit: 20, font: { family: SANS, size: 9.5, weight: "bold" }, cb: (_v: number, i: number) => fXTickText[i] }),
      scale("y", { min: 110, max: 190, vals: fYTicks, tick: 3, pad: 1, fit: 35, font: { family: SANS, size: 9.5, weight: "bold" }, cb: (v: number) => String(v) })
    ),
    plugins: [{
      id: "decoF",
      afterDraw(chart: any) {
        const ctx = chart.ctx;
        const sx = chart.scales.x, sy = chart.scales.y;
        frame(chart, 1.6, "#333");
        label(ctx, "(f)", 556, 243);
        vtxt(ctx, "SRDP index (%)", 563, 338, `bold 12.5px ${SANS}`, "#111");
        txt(ctx, "Pre-synaptic spike frequency (s/spike)", 686, 433, `bold 11.5px ${SANS}`, "#111", "center");
        txt(ctx, "SRDP index = A10/A1·100%", 600, 275, `italic bold 11.5px ${SANS}`, "#f0a05a");
        txt(ctx, "SRDP index = A7/A1·100%", 600, 290, `italic bold 11.5px ${SANS}`, "#26a06c");
        txt(ctx, "SRDP index = A4/A1·100%", 600, 305, `italic bold 11.5px ${SANS}`, "#5050ae");
        txt(ctx, "Low frequency", 623, 397, `bold 10px ${SANS}`, "#222");
        txt(ctx, "High frequency", 702, 397, `bold 10px ${SANS}`, "#222");
        const y = sy.getPixelForValue(113.5);
        arrow(ctx, sx.getPixelForValue(1.26), y, sx.getPixelForValue(0.36), y, "#555", 1, 5, 2.2);
      },
    }],
  };
}

function ChartCanvas({ make }: { make: () => any }) {
  const ref = useRef<HTMLCanvasElement>(null);
  useEffect(() => {
    const chart = new Chart(ref.current as HTMLCanvasElement, make());
    return () => chart.destroy();
  }, []);
  return <canvas ref={ref} width={W} height={H} style={{ position: "absolute", left: 0, top: 0, width: W, height: H }} />;
}

export default function App() {
  return (
    <div style={{ position: "absolute", left: 0, top: 0, width: W, height: H, background: "#ffffff", overflow: "hidden" }}>
      <ChartCanvas make={makeA} />
      <ChartCanvas make={makeB} />
      <ChartCanvas make={makeC} />
      <ChartCanvas make={makeD} />
      <ChartCanvas make={makeF} />
      <ChartCanvas make={makeE} />
    </div>
  );
}
